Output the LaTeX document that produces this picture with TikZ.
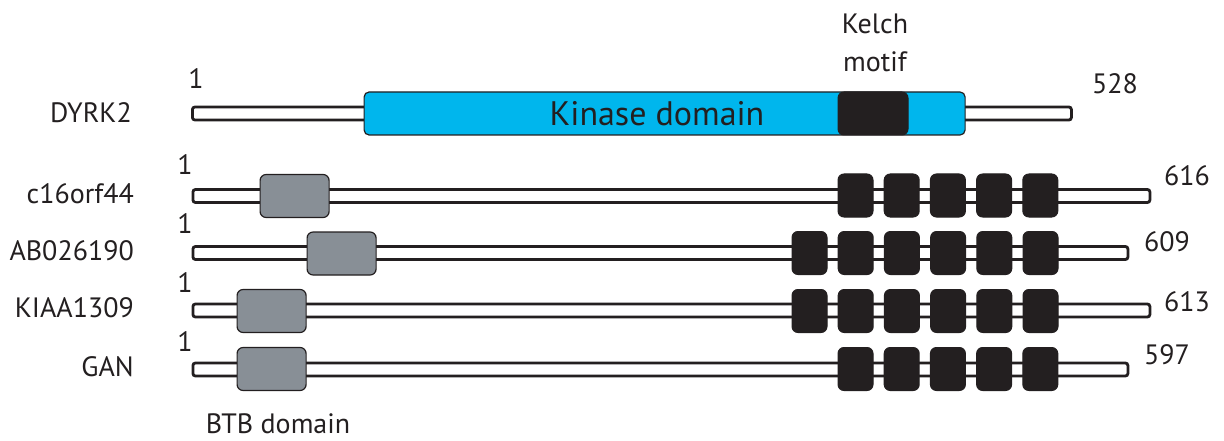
\documentclass[tikz,border=0pt]{standalone}
\usepackage{fontspec}
\setmainfont{PT Sans}
\definecolor{kincyan}{RGB}{0,182,237}
\definecolor{btbgray}{RGB}{136,143,150}
\definecolor{kelchblk}{RGB}{35,31,32}
\begin{document}
\begin{tikzpicture}[x=1pt,y=-1pt,
  every node/.style={font=\fontsize{28}{33}\selectfont, text=kelchblk},
  bar/.style={draw=kelchblk, line width=2.8pt, fill=white, rounded corners=2.5pt, minimum height=13pt, inner sep=0pt, anchor=west},
  btb/.style={draw=kelchblk, line width=1.2pt, fill=btbgray, rounded corners=6pt, minimum width=69pt, minimum height=43pt, inner sep=0pt, anchor=west},
  kel/.style={draw=kelchblk, line width=1pt, fill=kelchblk, rounded corners=6pt, minimum width=35pt, minimum height=43pt, inner sep=0pt, anchor=west},
  kin/.style={draw=kelchblk, line width=1.2pt, fill=kincyan, rounded corners=5pt, minimum width=601pt, minimum height=43pt, inner sep=0pt, anchor=west},
  lab/.style={anchor=east, inner sep=0pt},
  num/.style={anchor=west, inner sep=0pt},
]
\useasboundingbox (0,0) rectangle (1224,441);
% DYRK2
\node[bar, minimum width=879pt] (bar1) at (191,113.5) {};
\node[kin] (kin) at (363.5,113.5) {};
\node[kel, minimum width=70pt] (kd) at (837.5,113.5) {};
\node[font=\fontsize{34}{40}\selectfont] (kintext) at (657,113.5) {Kinase domain};
\node[lab] (l1) at (132,113) {DYRK2};
\node (one1) at (196,79) {1};
\node[num] (n1) at (1092,84) {528};
\node[align=center, font=\fontsize{28}{38}\selectfont] (kelchlab) at (875,43) {Kelch\\motif};
% c16orf44
\node[bar, minimum width=957pt] (bar2) at (191.5,196) {};
\node[btb] (g2) at (259.5,196) {};
\foreach \i in {0,...,4} \node[kel] (k2-\i) at ({837.5+46.2*\i},195.5) {};
\node[lab] (l2) at (134,194) {c16orf44};
\node (one2) at (185,165) {1};
\node[num] (n2) at (1164,176) {616};
% AB026190
\node[bar, minimum width=935pt] (bar3) at (191.5,253) {};
\node[btb] (g3) at (306.5,253.5) {};
\foreach \i in {0,...,5} \node[kel] (k3-\i) at ({791.5+46.2*\i},253) {};
\node[lab] (l3) at (134,251) {AB026190};
\node (one3) at (185,224) {1};
\node[num] (n3) at (1144,242) {609};
% KIAA1309
\node[bar, minimum width=957pt] (bar4) at (191.5,310.5) {};
\node[btb] (g4) at (236.5,311) {};
\foreach \i in {0,...,5} \node[kel] (k4-\i) at ({791.5+46.2*\i},311) {};
\node[lab] (l4) at (134,308) {KIAA1309};
\node (one4) at (185,283) {1};
\node[num] (n4) at (1164,302) {613};
% GAN
\node[bar, minimum width=935pt] (bar5) at (191.5,369.5) {};
\node[btb] (g5) at (236.5,369) {};
\foreach \i in {0,...,4} \node[kel] (k5-\i) at ({837.5+46.2*\i},369) {};
\node[lab] (l5) at (134,367) {GAN};
\node (one5) at (185,342) {1};
\node[num] (n5) at (1144,355) {597};
\node (btblab) at (278,424) {BTB domain};
\end{tikzpicture}
\end{document}
